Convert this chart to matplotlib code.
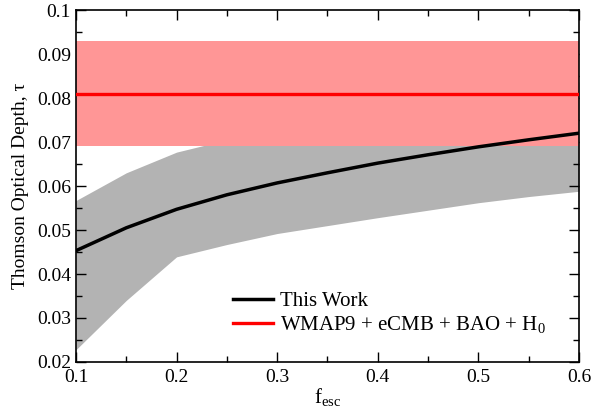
import matplotlib
matplotlib.use("Agg")
import matplotlib.pyplot as plt
from matplotlib.ticker import MultipleLocator

plt.rcParams['font.family'] = ['Liberation Serif', 'DejaVu Serif']
plt.rcParams['mathtext.fontset'] = 'custom'
plt.rcParams['mathtext.rm'] = 'Liberation Serif'
plt.rcParams['mathtext.it'] = 'Liberation Serif'

# Data
f_esc = [0.1, 0.15, 0.2, 0.25, 0.3, 0.35, 0.4, 0.45, 0.5, 0.55, 0.6]
tau_this = [0.0453, 0.0505, 0.0547, 0.0580, 0.0607, 0.0630, 0.0652, 0.0671, 0.0689, 0.0705, 0.0720]
tau_upper = [0.0567, 0.0630, 0.0677, 0.0705, 0.0730, 0.0752, 0.0772, 0.0790, 0.0807, 0.0822, 0.0836]
tau_lower = [0.0228, 0.0340, 0.0439, 0.0467, 0.0492, 0.0510, 0.0528, 0.0545, 0.0562, 0.0576, 0.0588]
wmap_tau = 0.081
wmap_lo = 0.069
wmap_hi = 0.093
x_ticks = [0.1, 0.2, 0.3, 0.4, 0.5, 0.6]
x_ticklabels = ['0.1', '0.2', '0.3', '0.4', '0.5', '0.6']
y_ticks = [0.02, 0.03, 0.04, 0.05, 0.06, 0.07, 0.08, 0.09, 0.1]
y_ticklabels = ['0.02', '0.03', '0.04', '0.05', '0.06', '0.07', '0.08', '0.09', '0.1']

fig = plt.figure(figsize=(5.95, 4.17), dpi=100)
ax = fig.add_axes([0.1277, 0.1319, 0.973 - 0.1277, 0.976 - 0.1319])

ax.fill_between(f_esc, tau_lower, tau_upper, color='#b3b3b3', lw=0, zorder=1)
ax.fill_between([f_esc[0], f_esc[-1]], [wmap_lo, wmap_lo], [wmap_hi, wmap_hi],
                color='#ff9696', lw=0, zorder=2)
ax.plot([f_esc[0], f_esc[-1]], [wmap_tau, wmap_tau], color='#ff0000', lw=2.4, zorder=3,
        label='WMAP9 + eCMB + BAO + H$_0$')
ax.plot(f_esc, tau_this, color='black', lw=2.5, zorder=4, label='This Work')

ax.set_xlim(0.1, 0.6)
ax.set_ylim(0.02, 0.1)
ax.xaxis.set_minor_locator(MultipleLocator(0.05))
ax.yaxis.set_minor_locator(MultipleLocator(0.005))
ax.set_xticks(x_ticks)
ax.set_xticklabels(x_ticklabels)
ax.set_yticks(y_ticks)
ax.set_yticklabels(y_ticklabels)
ax.tick_params(which='both', direction='in', top=True, right=True, labelsize=14, width=1.0)
ax.tick_params(which='major', length=7)
ax.tick_params(which='minor', length=4)
ax.tick_params(axis='x', pad=5)
for s in ax.spines.values():
    s.set_linewidth(1.2)

ax.set_xlabel('f$_{\\mathrm{esc}}$', fontsize=15, labelpad=0)
ax.set_ylabel('Thomson Optical Depth, τ', fontsize=14, labelpad=6)

h, l = ax.get_legend_handles_labels()
ax.legend(h[::-1], l[::-1], loc='center left', bbox_to_anchor=(0.312, 0.139),
          frameon=False, borderpad=0, borderaxespad=0,
          fontsize=15, handlelength=1.92, handletextpad=0.33, labelspacing=0.15)

fig.savefig('out.png', dpi=100)
